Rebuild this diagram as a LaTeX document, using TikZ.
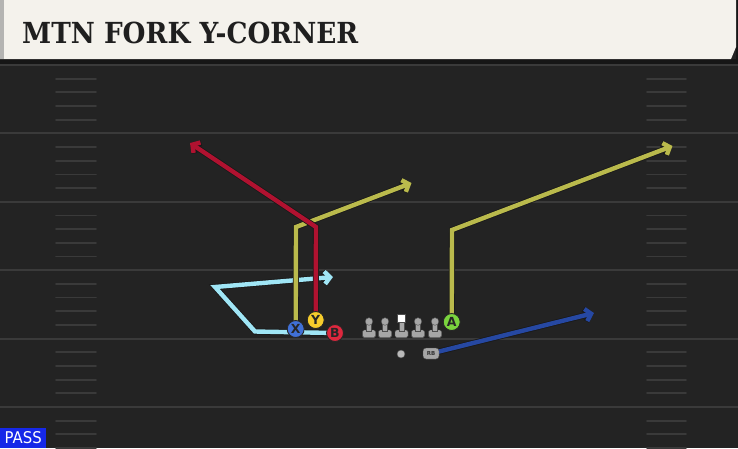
\documentclass[tikz,border=0pt]{standalone}
\usepackage{fontspec}
\setmainfont{DejaVu Sans}
\newfontfamily\titlefont{DejaVu Serif}
\usetikzlibrary{arrows.meta}

\definecolor{fieldgray}{RGB}{35,35,35}
\definecolor{linegray}{RGB}{58,58,58}
\definecolor{barwhite}{RGB}{244,242,236}
\definecolor{bargray}{RGB}{180,180,178}
\definecolor{bandblack}{RGB}{22,22,22}
\definecolor{olive}{RGB}{186,186,76}
\definecolor{crimson}{RGB}{176,18,48}
\definecolor{skyblue}{RGB}{160,230,246}
\definecolor{navyblue}{RGB}{38,72,162}
\definecolor{xblue}{RGB}{64,112,214}
\definecolor{ygold}{RGB}{246,204,44}
\definecolor{bred}{RGB}{222,40,62}
\definecolor{agreen}{RGB}{122,212,62}
\definecolor{passblue}{RGB}{22,40,232}

\pgfdeclarelayer{fieldlayer}
\pgfdeclarelayer{routelayer}
\pgfsetlayers{fieldlayer,routelayer,main}

\tikzset{
  yardline/.style={draw=linegray, line width=2pt},
  hashmark/.style={draw=linegray, line width=1.8pt, line cap=round},
  route/.style={line width=4.4pt, line join=miter,
    preaction={draw=black!90, line width=6pt},
    -{Straight Barb[length=5.5pt,width=12.5pt]}},
  player/.style={circle, draw=black!85, line width=0.9pt, minimum size=17pt,
    inner sep=0pt, font=\fontsize{12.5}{12.5}\selectfont\bfseries, text=black!85},
  lineman/.style={fill=gray!70, draw=black!70, line width=0.4pt}
}

\begin{document}
\begin{tikzpicture}[x=1pt,y=-1pt]
\useasboundingbox (0,0) rectangle (738,448);

\begin{pgfonlayer}{fieldlayer}
\fill[fieldgray] (0,0) rectangle (738,448);
% yard lines and hash marks
\foreach \k in {0,...,5}{
  \draw[yardline] (0,{65+\k*68.4}) -- (738,{65+\k*68.4});
  \foreach \j in {1,...,4}{
    \draw[hashmark] (56,{65+\k*68.4+\j*13.68}) -- (96,{65+\k*68.4+\j*13.68});
    \draw[hashmark] (647,{65+\k*68.4+\j*13.68}) -- (686,{65+\k*68.4+\j*13.68});
  }
}
% title bar
\fill[bandblack] (0,59) rectangle (738,64);
\fill[bandblack] (736,0) rectangle (738,59);
\fill[barwhite] (0,0) -- (736,0) -- (736,47) -- (731,59) -- (0,59) -- cycle;
\fill[bargray] (0,0) rectangle (4,59);
\end{pgfonlayer}

\node[anchor=base west, inner sep=0pt, text=black!88] (title) at (22,43.5)
  {\resizebox{336pt}{21.5pt}{\titlefont\bfseries MTN FORK Y-CORNER}};

% players
\node[player, fill=xblue] (X) at (295.7,329) {X};
\node[player, fill=ygold] (Y) at (315.7,320) {Y};
\node[player, fill=bred] (B) at (335,333) {B};
\node[player, fill=agreen] (A) at (451.7,322) {A};
\node[circle, fill=gray!55, draw=black!70, minimum size=8pt, inner sep=0pt] (QB) at (401,354) {};
\node[rounded corners=3pt, fill=gray!70, draw=black!70, minimum width=16pt, minimum height=11pt,
  inner sep=0pt, font=\fontsize{5.5}{5.5}\selectfont\bfseries, text=black!80] (RB) at (431,353.5) {RB};

% line
\foreach \x in {369,385,401.5,418,435}{
  \fill[lineman, rounded corners=1.5pt] (\x-6.5,330) rectangle (\x+6.5,337.5);
  \fill[lineman] (\x-2.6,322) rectangle (\x+2.6,331);
}
\foreach \x in {369,385,418,435}
  \fill[lineman] (\x,321.5) circle (3.8pt);
\fill[white, draw=black!70, line width=0.4pt] (397.5,314) rectangle (405.5,322);

% routes
\coordinate (xend) at (411.5,183);
\coordinate (yend) at (190,143);
\coordinate (bend) at (333,277);
\coordinate (aend) at (672.5,146);
\coordinate (rbend) at (594,313);
\begin{pgfonlayer}{routelayer}
\draw[route, skyblue] (B.center) -- (255,331.5) -- (215,287) -- (bend);
\draw[route, olive] (X.center) -- (296,227) -- (xend);
\draw[route, crimson] (Y.center) -- (316,227) -- (yend);
\draw[route, olive] (A.center) -- (452,230) -- (aend);
\draw[route, navyblue] (RB.center) -- (rbend);
\end{pgfonlayer}

% pass tag
\node[fill=passblue, anchor=south west, minimum width=46pt, minimum height=20pt,
  inner sep=0pt, text=white] (pass) at (0,448) {\resizebox{37pt}{12pt}{PASS}};
\end{tikzpicture}
\end{document}
